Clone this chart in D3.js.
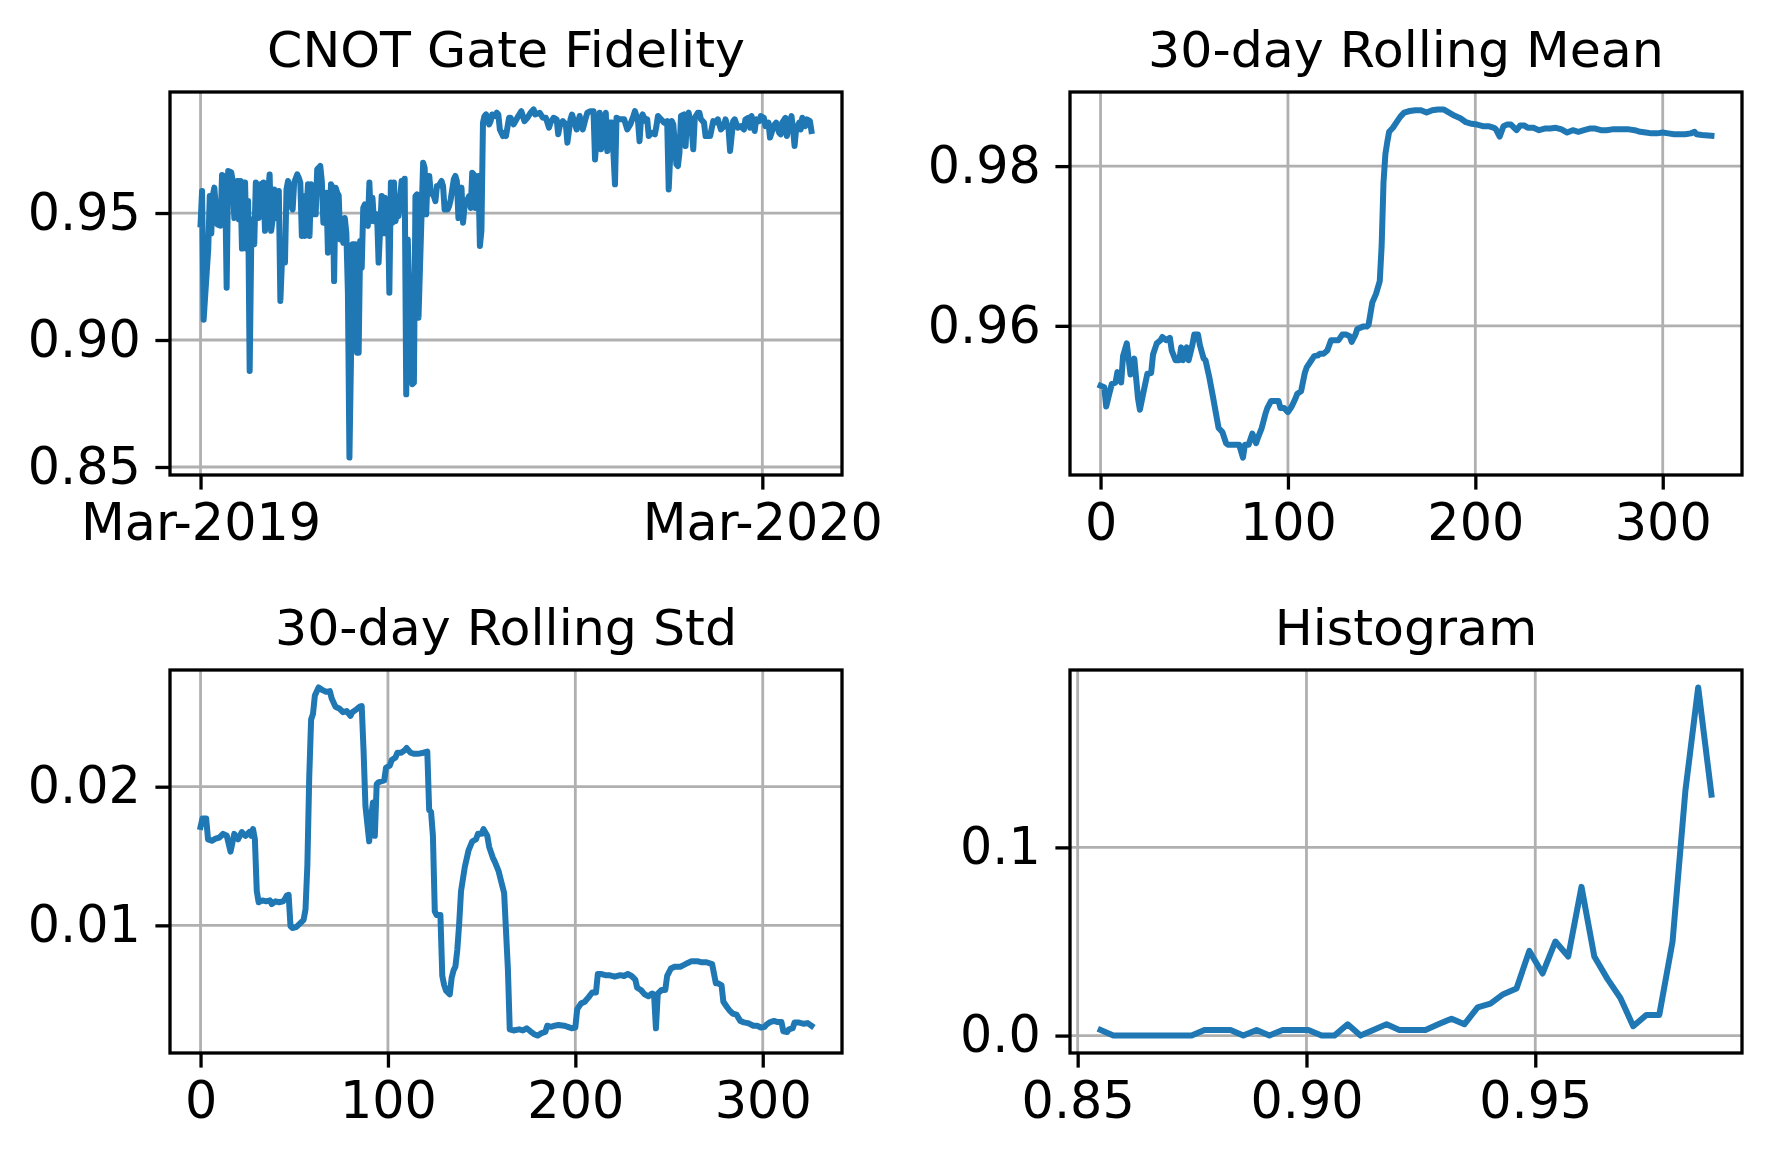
<!DOCTYPE html>
<html>
<head>
<meta charset="utf-8">
<script src="https://cdn.jsdelivr.net/npm/d3@7"></script>
<style>
  body { margin: 0; background: #fff; }
</style>
</head>
<body>
<div id="chart"></div>
<script>
// DATA
// CNOT fidelity: days after 1 Mar 2019, and the value on that day
var fidelityDays = [
  0,1,2,5,6,7,8,9,10,11, 13,14,16,17,18,20,21,22,24,25,
  26,27,28,29,30,31,32,33,34,35, 36,38,39,40,41,42,43,45,46,47,
  48,49,51,52,53,55,56,57,58,60, 61,63,64,65,66,67,68,70,71,72,
  73,74,75,76,78,79,80,81,82,83, 85,86,87,88,89,90,91,92,93,94,
  95,96,97,98,99,101,102,103,104,105, 106,107,108,109,110,111,112,113,114,115,
  116,118,119,120,121,122,123,124,125,126, 127,128,129,131,132,133,134,135,137,138,
  139,140,141,142,144,145,146,147,148,149, 150,152,153,154,155,157,158,159,161,162,
  163,165,166,167,168,169,170,171,172,174, 175,176,177,178,179,181,182,183,184,185,
  186,188,189,190,192,193,194,195,197,198, 199,201,
  202,204,207,209,211,213,215,217,218,221, 223,225,227,228,230,232,233,234,236,238,
  239,241,242,244,245,247,248,249,251,252, 254,256,257,258,260,261,262,264,265,266,
  268,270,271,273,275,276,278,280,282,283, 285,286,287,288,290,291,292,294,296,297,
  298,300,302,304,305,307,308,310,311,312, 313,315,316,317,318,320,321,322,324,325,
  326,328,329,331,332,334,335,337,339,341, 342,344,345,347,348,350,352,354,355,357,
  358,359,361,362,364,365,367,368,370,371, 372,374,375,377,378,379,381,382,383,385,
  386,387,388,390,391,392,394,395,397,398
];
var fidelityValues = [
  0.9455,0.9587,0.908,0.9357,0.9567,0.942,0.957,0.960,0.952,0.9455,
  0.945,0.965,0.964,0.9206,0.9665,0.966,0.9626,0.948,0.9626,0.9475,
  0.9626,0.936,0.962,0.962,0.936,0.9547,0.8878,0.937,0.9475,0.9377,
  0.962,0.948,0.9613,0.9488,0.962,0.943,0.9508,0.9652,0.943,0.9475,
  0.9593,0.948,0.9587,0.9154,0.9305,0.9305,0.9593,0.9626,0.9541,0.9514,
  0.962,0.9652,0.9639,0.962,0.941,0.9567,0.941,0.9613,0.941,0.9613,
  0.9606,0.9495,0.9495,0.9672,0.9685,0.9626,0.9462,0.9462,0.958,0.9344,
  0.9613,0.960,0.9232,0.960,0.958,0.957,0.9396,0.9475,0.9383,0.948,
  0.942,0.9186,0.8537,0.8924,0.9377,0.9377,0.895,0.895,0.939,0.9285,
  0.952,0.9534,0.9455,0.945,0.962,0.9468,0.956,0.9468,0.9495,0.9495,
  0.9305,0.9567,0.942,0.956,0.942,0.9554,0.9186,0.962,0.9462,0.962,
  0.9468,0.950,0.9488,0.9626,0.9541,0.9635,0.8786,0.9396,0.8977,0.8826,
  0.8832,0.9567,0.9573,0.9088,0.9495,0.9698,0.9678,0.9495,0.9646,0.9646,
  0.958,0.9567,0.9547,0.9606,0.9606,0.9626,0.9606,0.9514,0.9514,0.9528,
  0.9554,0.9633,0.9646,0.9626,0.948,0.9541,0.960,0.9462,0.9528,0.9554,
  0.9567,0.952,0.9659,0.9652,0.952,0.9646,0.937,0.943,0.9856,0.9882,
  0.9888,0.9849,0.9862,0.9888,0.9882,0.9895,0.9888,0.9829,0.9803,0.9816,
  0.9803,0.9875,
  0.9875,0.9849,0.9882,0.9901,0.9862,0.9875,0.9895,0.9908,0.9888,0.9895,
  0.9875,0.9875,0.9836,0.9856,0.9875,0.9869,0.981,0.9842,0.9862,0.9849,
  0.9777,0.9869,0.9888,0.9849,0.9829,0.9882,0.9849,0.9829,0.9875,0.9895,
  0.9901,0.9901,0.9711,0.979,0.9895,0.9751,0.9816,0.9895,0.9744,0.9856,
  0.9856,0.9613,0.9875,0.9869,0.9869,0.9869,0.9829,0.9849,0.9882,0.9901,
  0.9862,0.9783,0.9875,0.9888,0.9862,0.9869,0.9803,0.9816,0.981,0.9842,
  0.9882,0.9869,0.9856,0.9862,0.9593,0.9862,0.9849,0.9692,0.9685,0.9737,
  0.9882,0.9888,0.9764,0.9882,0.9895,0.9829,0.9751,0.9875,0.9895,0.9895,
  0.9869,0.9856,0.9803,0.9803,0.9803,0.9862,0.9856,0.9869,0.9829,0.9842,
  0.9869,0.9829,0.9744,0.9862,0.9869,0.9836,0.9842,0.9829,0.9869,0.9875,
  0.9836,0.9882,0.9823,0.9869,0.9862,0.9882,0.9875,0.9842,0.9856,0.9797,
  0.9816,0.9849,0.9856,0.9816,0.981,0.9856,0.9875,0.9803,0.9842,0.9882,
  0.9829,0.9764,0.9829,0.9856,0.9829,0.9875,0.9842,0.9869,0.9862,0.9823
];

// 30-day rolling mean, by sample index
var meanIndex = [
  0,2,3,5,6,8,9,11,12,14, 16,18,20,21,23,25,27,28,30,32,
  33,35,37,38,40,42,43,44,46,47, 49,50,52,53,55,56,58,60,62,63,
  65,67,68,70,72,74,76,77,79,81, 83,84,86,88,89,91,93,95,96,98,
  100,102,104,105,107,109,110,112,114,116, 117,119,121,123,125,127,129,131,133,134,
  136,137,140,142,143,145,147,149,150,151, 152,153,154,156,158,160,162,165,168,171,
  174,177,180,183,186,189,192,195,198,201, 204,207,210,211,213,215,217,219,222,224,
  226,228,231,234,237,240,243,246,249,252, 255,258,261,264,267,270,273,276,279,282,
  285,288,291,294,297,300,303,306,309,312, 315,317,318,321,326
];
var meanValues = [
  0.9525,0.9523,0.9499,0.9518,0.9527,0.9529,0.9542,0.9529,0.9562,0.9578,
  0.9539,0.9559,0.9509,0.9495,0.9518,0.9540,0.9541,0.9564,0.9578,0.9582,
  0.9586,0.9582,0.9585,0.9569,0.9557,0.9557,0.9573,0.9557,0.9573,0.9557,
  0.9576,0.9589,0.9589,0.9576,0.9559,0.9557,0.9536,0.9511,0.9485,0.9472,
  0.9467,0.9453,0.9451,0.9451,0.9451,0.9451,0.9435,0.9451,0.9451,0.9465,
  0.9453,0.9460,0.9472,0.9490,0.9497,0.9506,0.9506,0.9506,0.9497,0.9497,
  0.9492,0.9499,0.9509,0.9515,0.9518,0.9541,0.9548,0.9555,0.9562,0.9563,
  0.9565,0.9565,0.9569,0.9582,0.9582,0.9582,0.9589,0.9589,0.9587,0.9580,
  0.9589,0.9596,0.9599,0.9599,0.9601,0.9629,0.9640,0.9656,0.9700,0.9780,
  0.9815,0.9830,0.9843,0.9848,0.9855,0.9862,0.9867,0.9869,0.9870,0.9870,
  0.9867,0.9870,0.9871,0.9871,0.9867,0.9863,0.9860,0.9855,0.9853,0.9852,
  0.9850,0.9850,0.9848,0.9846,0.9837,0.9850,0.9852,0.9852,0.9845,0.9851,
  0.9851,0.9848,0.9848,0.9845,0.9847,0.9847,0.9848,0.9846,0.9842,0.9845,
  0.9843,0.9845,0.9847,0.9847,0.9845,0.9845,0.9846,0.9846,0.9846,0.9846,
  0.9845,0.9843,0.9842,0.9841,0.9841,0.9842,0.9841,0.9840,0.9840,0.9840,
  0.9841,0.9843,0.9840,0.9839,0.9838
];

// 30-day rolling std, by sample index
var stdIndex = [
  0,1,3,4,6,8,10,12,14,16, 18,20,22,24,26,27,28,29,30,31,
  33,35,37,38,40,42,44,45,46,47, 48,49,51,53,55,56,57,58,59,60,
  61,63,65,67,69,70,72,74,76,78, 80,81,83,85,86,87,88,90,91,92,
  93,94,95,98,99,101,102,104,105,107, 109,110,112,114,116,119,121,122,123,124,
  125,126,128,129,130,131,133,134,135,136, 137,138,139,141,143,145,147,148,150,151,
  153,154,156,157,159,160,162,164,165,167, 170,172,174,176,178,180,182,184,185,187,
  189,191,194,196,198,200,201,203,205,207, 209,211,212,214,216,218,221,224,226,228,
  230,232,233,235,237,239,241,242,243,244, 246,248,249,251,253,256,258,260,262,265,
  267,270,273,275,276,278,279,281,282,284, 286,288,290,292,293,295,297,299,301,302,
  304,306,308,310,311,313,314,316,317,319, 322,324,326
];
var stdValues = [
  0.0171,0.0177,0.0177,0.0162,0.0161,0.01625,0.01633,0.0166,0.01646,0.01532,
  0.0166,0.0162,0.01673,0.01646,0.01673,0.01646,0.01694,0.0162,0.01247,0.01167,
  0.0118,0.01173,0.0118,0.01154,0.01173,0.01167,0.01173,0.01189,0.01215,0.0122,
  0.00995,0.00981,0.00987,0.01013,0.0104,0.01114,0.01433,0.0207,0.02484,0.02524,
  0.02657,0.02716,0.02697,0.02684,0.02689,0.02636,0.02577,0.02564,0.02537,0.02545,
  0.02511,0.02537,0.02556,0.02577,0.02582,0.02258,0.01859,0.01606,0.01779,0.01886,
  0.01646,0.02019,0.02032,0.02045,0.02138,0.02152,0.02192,0.0221,0.02245,0.02245,
  0.02263,0.02279,0.02245,0.02237,0.02237,0.02245,0.02253,0.01832,0.01819,0.01646,
  0.01101,0.01074,0.01074,0.00635,0.00569,0.00529,0.00502,0.00622,0.00675,0.00702,
  0.00822,0.01008,0.01247,0.0142,0.0154,0.01606,0.0162,0.0166,0.0166,0.01694,
  0.01646,0.01566,0.01487,0.0146,0.01393,0.0134,0.01234,0.00689,0.0025,0.00242,
  0.0025,0.00242,0.00258,0.00236,0.00215,0.00205,0.00223,0.00231,0.00276,0.00268,
  0.00276,0.00282,0.00276,0.00268,0.00258,0.00263,0.00396,0.00436,0.00449,0.00481,
  0.00516,0.00516,0.00649,0.00649,0.00641,0.00641,0.0063,0.00641,0.00635,0.00649,
  0.00635,0.00609,0.0055,0.00534,0.00502,0.00489,0.00508,0.00502,0.00258,0.00508,
  0.00534,0.00534,0.00635,0.00689,0.00702,0.00702,0.00715,0.00729,0.00742,0.00742,
  0.00734,0.00734,0.0072,0.00582,0.00582,0.00569,0.00449,0.00409,0.00391,0.00364,
  0.00356,0.00311,0.003,0.00295,0.0029,0.00276,0.00276,0.00263,0.00268,0.00284,
  0.00303,0.00311,0.00303,0.00303,0.00236,0.00231,0.0025,0.00258,0.003,0.003,
  0.0029,0.00295,0.00276
];

// histogram: bin centres and share of samples
var histBins = [
  0.8550,0.8578,0.8607,0.8635,0.8664,0.8692,0.8720,0.8749,0.8777,0.8806,
  0.8834,0.8862,0.8891,0.8919,0.8948,0.8976,0.9004,0.9033,0.9061,0.9090,
  0.9118,0.9146,0.9175,0.9203,0.9232,0.9260,0.9288,0.9317,0.9345,0.9374,
  0.9402,0.9430,0.9459,0.9487,0.9516,0.9544,0.9572,0.9601,0.9629,0.9658,
  0.9686,0.9714,0.9743,0.9771,0.9800,0.9828,0.9856,0.9885
];
var histDensity = [
  0.003,0,0,0,0,0,0,0,0.003,0.003,
  0.003,0,0.003,0,0.003,0.003,0.003,0,0,0.006,
  0,0.003,0.006,0.003,0.003,0.003,0.006,0.009,0.006,0.015,
  0.017,0.022,0.025,0.045,0.033,0.050,0.042,0.079,0.042,0.030,
  0.020,0.005,0.011,0.011,0.050,0.130,0.185,0.128
];

var panelTitles = ["CNOT Gate Fidelity", "30-day Rolling Mean", "30-day Rolling Std", "Histogram"];
var dateTicks = ["2019-03-01", "2020-03-01"];
var indexTicks = [0, 100, 200, 300];
var fidelityTicks = [0.85, 0.90, 0.95];
var meanTicks = [0.96, 0.98];
var stdTicks = [0.01, 0.02];
var binTicks = [0.85, 0.90, 0.95];
var densityTicks = [0.0, 0.1];

// LAYOUT
var width = 1770;
var height = 1160;
var cols = [170, 1070];
var rows = [92, 670];
var plotW = 672;
var plotH = 383;
var tickLen = 14.6;
var fontSize = 50.8;
var titleSize = 50.6;
var lineColor = "#1f77b4";

var svg = d3.select("#chart")
  .append("svg")
  .attr("width", width)
  .attr("height", height)
  .style("display", "block")
  .style("background", "#fff");

// matplotlib style 5% margins
function padded(ext) {
  var m = (ext[1] - ext[0]) * 0.05;
  return [ext[0] - m, ext[1] + m];
}

var startDate = d3.utcParse("%Y-%m-%d")("2019-03-01");
function dayToDate(d) {
  return new Date(startDate.getTime() + d * 864e5);
}

var drawPanel = function(p) {
  var g = svg.append("g")
    .attr("transform", "translate(" + p.left + "," + p.top + ")");

  // grid
  g.selectAll(".gx")
    .data(p.xTicks)
    .enter()
    .append("line")
    .attr("x1", function(d) { return p.x(d); })
    .attr("x2", function(d) { return p.x(d); })
    .attr("y1", 0)
    .attr("y2", plotH)
    .attr("stroke", "#b0b0b0")
    .attr("stroke-width", 2.8);

  g.selectAll(".gy")
    .data(p.yTicks)
    .enter()
    .append("line")
    .attr("x1", 0)
    .attr("x2", plotW)
    .attr("y1", function(d) { return p.y(d); })
    .attr("y2", function(d) { return p.y(d); })
    .attr("stroke", "#b0b0b0")
    .attr("stroke-width", 2.8);

  var line = d3.line()
    .x(function(d) { return p.x(d[0]); })
    .y(function(d) { return p.y(d[1]); });

  g.append("path")
    .datum(p.points)
    .attr("d", line)
    .attr("fill", "none")
    .attr("stroke", lineColor)
    .attr("stroke-width", 6)
    .attr("stroke-linejoin", "round")
    .attr("stroke-linecap", "square");

  // frame
  g.append("rect")
    .attr("x", 0)
    .attr("y", 0)
    .attr("width", plotW)
    .attr("height", plotH)
    .attr("fill", "none")
    .attr("stroke", "#000")
    .attr("stroke-width", 3.3);

  var xAxis = d3.axisBottom(p.x)
    .tickValues(p.xTicks)
    .tickFormat(p.xFormat)
    .tickSize(tickLen)
    .tickPadding(tickLen);

  var yAxis = d3.axisLeft(p.y)
    .tickValues(p.yTicks)
    .tickFormat(p.yFormat)
    .tickSize(tickLen)
    .tickPadding(tickLen);

  var gx = g.append("g")
    .attr("transform", "translate(0," + plotH + ")")
    .call(xAxis);
  var gy = g.append("g")
    .call(yAxis);

  [gx, gy].forEach(function(a) {
    a.select(".domain").remove();
    a.attr("font-size", fontSize).attr("font-family", "DejaVu Sans");
    a.selectAll("line").attr("stroke", "#000").attr("stroke-width", 3.3);
    a.selectAll("text").attr("fill", "#000");
  });

  g.append("text")
    .attr("x", plotW / 2)
    .attr("y", -25)
    .attr("text-anchor", "middle")
    .attr("font-family", "DejaVu Sans")
    .attr("font-size", titleSize)
    .attr("fill", "#000")
    .text(p.title);
};

// Panel 1: fidelity over time
var dayDomain = padded(d3.extent(fidelityDays));
var x1 = d3.scaleUtc()
  .domain([dayToDate(dayDomain[0]), dayToDate(dayDomain[1])])
  .range([0, plotW]);
var y1 = d3.scaleLinear()
  .domain(padded(d3.extent(fidelityValues)))
  .range([plotH, 0]);

drawPanel({
  left: cols[0], top: rows[0], title: panelTitles[0],
  x: x1, y: y1,
  points: fidelityDays.map(function(d, i) { return [dayToDate(d), fidelityValues[i]]; }),
  xTicks: dateTicks.map(function(s) { return d3.utcParse("%Y-%m-%d")(s); }),
  xFormat: d3.utcFormat("%b-%Y"),
  yTicks: fidelityTicks, yFormat: d3.format(".2f")
});

// Panel 2: rolling mean
var x2 = d3.scaleLinear()
  .domain(padded(d3.extent(meanIndex)))
  .range([0, plotW]);
var y2 = d3.scaleLinear()
  .domain(padded(d3.extent(meanValues)))
  .range([plotH, 0]);

drawPanel({
  left: cols[1], top: rows[0], title: panelTitles[1],
  x: x2, y: y2,
  points: d3.zip(meanIndex, meanValues),
  xTicks: indexTicks, xFormat: d3.format("d"),
  yTicks: meanTicks, yFormat: d3.format(".2f")
});

// Panel 3: rolling std
var x3 = d3.scaleLinear()
  .domain(padded(d3.extent(stdIndex)))
  .range([0, plotW]);
var y3 = d3.scaleLinear()
  .domain(padded(d3.extent(stdValues)))
  .range([plotH, 0]);

drawPanel({
  left: cols[0], top: rows[1], title: panelTitles[2],
  x: x3, y: y3,
  points: d3.zip(stdIndex, stdValues),
  xTicks: indexTicks, xFormat: d3.format("d"),
  yTicks: stdTicks, yFormat: d3.format(".2f")
});

// Panel 4: histogram as a line
var x4 = d3.scaleLinear()
  .domain(padded(d3.extent(histBins)))
  .range([0, plotW]);
var y4 = d3.scaleLinear()
  .domain(padded(d3.extent(histDensity)))
  .range([plotH, 0]);

drawPanel({
  left: cols[1], top: rows[1], title: panelTitles[3],
  x: x4, y: y4,
  points: d3.zip(histBins, histDensity),
  xTicks: binTicks, xFormat: d3.format(".2f"),
  yTicks: densityTicks, yFormat: d3.format(".1f")
});
</script>
</body>
</html>
